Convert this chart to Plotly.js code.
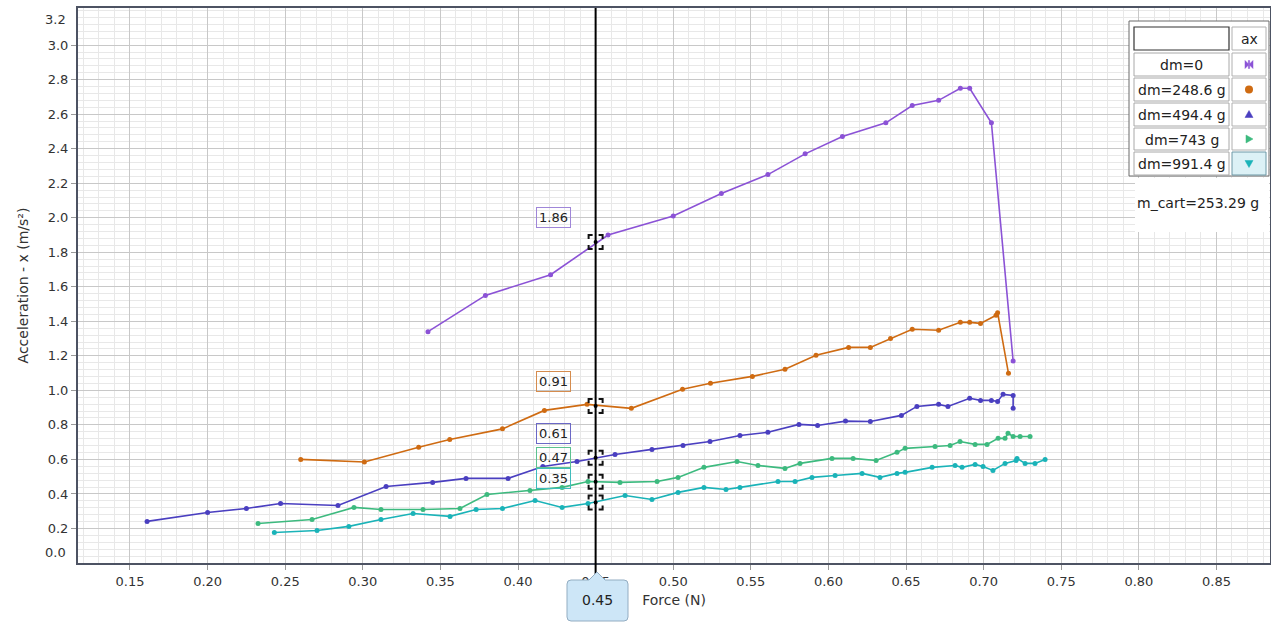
<!DOCTYPE html>
<html>
<head>
<meta charset="utf-8">
<script src="https://cdn.plot.ly/plotly-3.0.1.min.js"></script>
<style>html,body{margin:0;padding:0;background:#fff;}#chart{width:1271px;height:623px;}</style>
</head>
<body>
<div id="chart"></div>
<script>
// ---- data ----
const seriesNames = ["dm=0", "dm=248.6 g", "dm=494.4 g", "dm=743 g", "dm=991.4 g"];
const seriesColors = ["#8b52d6", "#cf6b12", "#4a3fc0", "#3dba7f", "#1ab3b8"];

const dm0_x = [0.342,0.379,0.421,0.458,0.500,0.531,0.561,0.585,0.609,0.637,0.654,0.671,0.685,0.691,0.705,0.719];
const dm0_y = [1.34,1.55,1.67,1.90,2.01,2.14,2.25,2.37,2.47,2.55,2.65,2.68,2.75,2.75,2.55,1.17];

const dm248_x = [0.260,0.301,0.336,0.356,0.390,0.417,0.4445,0.473,0.506,0.524,0.551,0.572,0.592,0.613,0.627,0.640,0.654,0.671,0.685,0.691,0.698,0.708,0.709,0.716];
const dm248_y = [0.600,0.585,0.670,0.715,0.777,0.884,0.919,0.896,1.006,1.041,1.081,1.122,1.203,1.249,1.249,1.301,1.354,1.348,1.394,1.394,1.388,1.435,1.450,1.099];

const dm494_x = [0.161,0.200,0.225,0.247,0.284,0.315,0.345,0.3665,0.3936,0.416,0.438,0.4625,0.4863,0.5063,0.5237,0.543,0.561,0.581,0.593,0.611,0.627,0.647,0.657,0.671,0.677,0.691,0.698,0.705,0.709,0.7125,0.719,0.719];
const dm494_y = [0.241,0.293,0.316,0.345,0.333,0.443,0.467,0.490,0.490,0.559,0.588,0.629,0.658,0.681,0.704,0.739,0.757,0.803,0.797,0.822,0.820,0.855,0.907,0.919,0.907,0.954,0.942,0.942,0.936,0.977,0.971,0.896];

const dm743_x = [0.2325,0.2673,0.2943,0.3117,0.3388,0.3626,0.380,0.4077,0.4284,0.4451,0.4657,0.4896,0.5031,0.5198,0.5411,0.5546,0.572,0.5817,0.6023,0.6159,0.6307,0.6442,0.6494,0.6687,0.6784,0.6848,0.6945,0.7022,0.7093,0.7138,0.7157,0.719,0.7235,0.7299];
const dm743_y = [0.229,0.252,0.322,0.310,0.310,0.316,0.397,0.420,0.438,0.472,0.467,0.472,0.496,0.554,0.588,0.565,0.548,0.577,0.606,0.606,0.594,0.641,0.664,0.675,0.681,0.704,0.687,0.687,0.722,0.722,0.751,0.733,0.733,0.733];

const dm991_x = [0.243,0.2705,0.291,0.3117,0.3324,0.3562,0.373,0.390,0.411,0.4284,0.4451,0.469,0.4863,0.5031,0.5198,0.534,0.543,0.5675,0.5785,0.5894,0.6043,0.6217,0.6332,0.6442,0.6494,0.6668,0.6816,0.6861,0.6945,0.6996,0.706,0.7138,0.7209,0.7215,0.7267,0.7331,0.7396];
const dm991_y = [0.177,0.188,0.212,0.252,0.287,0.270,0.310,0.316,0.362,0.322,0.345,0.391,0.368,0.409,0.438,0.426,0.438,0.472,0.472,0.496,0.507,0.519,0.496,0.519,0.525,0.554,0.565,0.554,0.571,0.559,0.536,0.577,0.594,0.606,0.577,0.577,0.600];

const xTickVals = [0.15,0.20,0.25,0.30,0.35,0.40,0.45,0.50,0.55,0.60,0.65,0.70,0.75,0.80,0.85];
const xTickText = ["0.15","0.20","0.25","0.30","0.35","0.40","0.45","0.50","0.55","0.60","0.65","0.70","0.75","0.80","0.85"];
const yTickVals = [0.2,0.4,0.6,0.8,1.0,1.2,1.4,1.6,1.8,2.0,2.2,2.4,2.6,2.8,3.0];
const yTickText = ["0.2","0.4","0.6","0.8","1.0","1.2","1.4","1.6","1.8","2.0","2.2","2.4","2.6","2.8","3.0"];
const yEdgeText = ["0.0","3.2"];

const cursorX = 0.45;
const cursorVals = [1.86, 0.91, 0.61, 0.47, 0.35];
const cursorText = ["1.86", "0.91", "0.61", "0.47", "0.35"];
const cursorTip = "0.45";
const infoText = "m_cart=253.29 g";
const headerText = "ax";

// ---- build ----
const xs = [dm0_x, dm248_x, dm494_x, dm743_x, dm991_x];
const ys = [dm0_y, dm248_y, dm494_y, dm743_y, dm991_y];
const FONT = "DejaVu Sans";

const traces = xs.map((x, i) => ({
  type: "scatter", mode: "lines+markers", name: seriesNames[i],
  x: x, y: ys[i],
  line: {color: seriesColors[i], width: 1.6},
  marker: {color: seriesColors[i], size: 5},
  showlegend: false, hoverinfo: "skip"
}));

// plot area in pixels
const L = 78, T = 8, W = 1192, H = 555;
const px = v => (v - L) / W;
const py = v => (T + H - v) / H;

const shapes = [];
const annotations = [];

function rect(x0, y0, x1, y1, lineColor, fill, lw) {
  shapes.push({type: "rect", xref: "paper", yref: "paper", layer: "above",
    x0: px(x0), x1: px(x1), y0: py(y1), y1: py(y0),
    line: {color: lineColor || "rgba(0,0,0,0)", width: lineColor ? (lw || 1) : 0},
    fillcolor: fill || "rgba(0,0,0,0)"});
}
function label(xp, yp, text, size) {
  annotations.push({x: px(xp), y: py(yp), xref: "paper", yref: "paper", showarrow: false,
    xanchor: "center", yanchor: "middle", text: text,
    font: {family: FONT, size: size || 14, color: "#222"}});
}

// vertical cursor line
shapes.push({type: "line", xref: "x", yref: "paper", layer: "above",
  x0: cursorX, x1: cursorX, y0: py(575), y1: 1, line: {color: "#000", width: 2}});

// cursor brackets + labels
const bracket = "M-7,-3 L-7,-7 L-3,-7 M3,-7 L7,-7 L7,-3 M7,3 L7,7 L3,7 M-3,7 L-7,7 L-7,3";
const labelBorders = ["#9f86d8", "#d58c4e", "#6b68c6", "#5cc28f", "#3fbcbc"];
cursorVals.forEach((v, i) => {
  shapes.push({type: "path", xref: "x", yref: "y", layer: "above",
    xsizemode: "pixel", ysizemode: "pixel", xanchor: cursorX, yanchor: v,
    path: bracket, line: {color: "#111", width: 2}});
  shapes.push({type: "circle", xref: "x", yref: "y", layer: "above",
    xsizemode: "pixel", ysizemode: "pixel", xanchor: cursorX, yanchor: v,
    x0: -2, x1: 2, y0: -2, y1: 2, fillcolor: "#000", line: {width: 0}});
  annotations.push({x: cursorX, y: v, xref: "x", yref: "y", showarrow: false,
    xanchor: "right", yanchor: "middle", xshift: -25, yshift: 24,
    text: cursorText[i], font: {family: FONT, size: 13, color: "#222"},
    bordercolor: labelBorders[i], borderwidth: 1, borderpad: 2, bgcolor: "rgba(0,0,0,0)"});
});

// tooltip at bottom
function p(x, y) { return px(x) + "," + py(y); }
shapes.push({type: "path", xref: "paper", yref: "paper", layer: "above",
  path: "M" + p(567,584) + " Q" + p(567,580) + " " + p(571,580) + " L" + p(589,580) + " L" + p(597,572) + " L" + p(605,580) +
        " L" + p(624,580) + " Q" + p(628,580) + " " + p(628,584) + " L" + p(628,617) + " Q" + p(628,621) + " " + p(624,621) +
        " L" + p(571,621) + " Q" + p(567,621) + " " + p(567,617) + " Z",
  fillcolor: "#cde6f7", line: {color: "#93adc2", width: 1}});
label(597.5, 600, cursorTip, 14);

// y edge labels (shifted inward like the reference)
annotations.push({x: px(68), y: py(552), xref: "paper", yref: "paper", showarrow: false, xanchor: "right", yanchor: "middle",
  text: yEdgeText[0], font: {family: FONT, size: 13, color: "#333"}});
annotations.push({x: px(68), y: py(19), xref: "paper", yref: "paper", showarrow: false, xanchor: "right", yanchor: "middle",
  text: yEdgeText[1], font: {family: FONT, size: 13, color: "#333"}});

// legend table
rect(1129, 21, 1269, 176, "#6a6a6a", "#ffffff", 1);
rect(1135, 178, 1269, 232, null, "#ffffff");
rect(1134, 27, 1229, 50, "#333333", "#ffffff", 1.2);
rect(1232, 27, 1266, 50, "#b0b0b0", "#ffffff", 1);
label(1249, 39, headerText, 14);
const rowTop = [53, 78, 103, 128, 152];
const rowBot = [76, 101, 126, 150, 175];
rowTop.forEach((t, i) => {
  rect(1134, t, 1229, rowBot[i], "#a8a8a8", "#ffffff", 1);
  if (i === 4) rect(1232, t, 1266, rowBot[i], "#6d98a6", "#dcf1f6", 1);
  else rect(1232, t, 1266, rowBot[i], "#b0b0b0", "#ffffff", 1);
  label(1181.5, (t + rowBot[i]) / 2 + 0.5, seriesNames[i], 14);
});
const symPaths = [
  "M-4,4 L0,0 L-4,-4 Z M4,4 L0,0 L4,-4 Z M-0.6,4 L0.6,4 L0.6,-4 L-0.6,-4 Z",
  null,
  "M0,4 L4,-3 L-4,-3 Z",
  "M4,0 L-3,4 L-3,-4 Z",
  "M0,-4 L4,3 L-4,3 Z"
];
rowTop.forEach((t, i) => {
  const cx = px(1249), cy = py((t + rowBot[i]) / 2);
  if (i === 1) {
    shapes.push({type: "circle", xref: "paper", yref: "paper", layer: "above",
      xsizemode: "pixel", ysizemode: "pixel", xanchor: cx, yanchor: cy,
      x0: -4, x1: 4, y0: -4, y1: 4, fillcolor: seriesColors[i], line: {width: 0}});
  } else {
    shapes.push({type: "path", xref: "paper", yref: "paper", layer: "above",
      xsizemode: "pixel", ysizemode: "pixel", xanchor: cx, yanchor: cy,
      path: symPaths[i], fillcolor: seriesColors[i], line: {color: seriesColors[i], width: 0.5}});
  }
});
label(1198, 203, infoText, 14);

const layout = {
  width: 1271, height: 623, autosize: false,
  margin: {l: L, r: 1271 - L - W, t: T, b: 623 - T - H, pad: 0},
  paper_bgcolor: "#ffffff", plot_bgcolor: "#ffffff",
  font: {family: FONT, size: 13, color: "#333"},
  showlegend: false,
  xaxis: {
    range: [0.1165, 0.8845], tickvals: xTickVals, ticktext: xTickText,
    ticks: "outside", ticklen: 5, tickcolor: "#9a9a9a",
    showgrid: true, gridcolor: "#c8c8c8", gridwidth: 1,
    minor: {dtick: 0.01, showgrid: true, gridcolor: "#e8e8e8", gridwidth: 1, ticks: ""},
    showline: true, mirror: true, linecolor: "#4d5363", linewidth: 2,
    zeroline: false, tickfont: {family: FONT, size: 13, color: "#333"},
    title: {text: "Force (N)", font: {family: FONT, size: 14, color: "#333"}, standoff: 8}
  },
  yaxis: {
    range: [0, 3.215], tickvals: yTickVals, ticktext: yTickText,
    ticks: "outside", ticklen: 5, tickcolor: "#9a9a9a",
    showgrid: true, gridcolor: "#c8c8c8", gridwidth: 1,
    minor: {dtick: 0.04, tick0: 0, showgrid: true, gridcolor: "#e8e8e8", gridwidth: 1, ticks: ""},
    showline: true, mirror: true, linecolor: "#4d5363", linewidth: 2,
    zeroline: false, tickfont: {family: FONT, size: 13, color: "#333"},
    title: {text: "Acceleration - x (m/s²)", font: {family: FONT, size: 14, color: "#333"}, standoff: 16}
  },
  shapes: shapes,
  annotations: annotations
};

Plotly.newPlot("chart", traces, layout, {displayModeBar: false, staticPlot: true});
</script>
</body>
</html>
